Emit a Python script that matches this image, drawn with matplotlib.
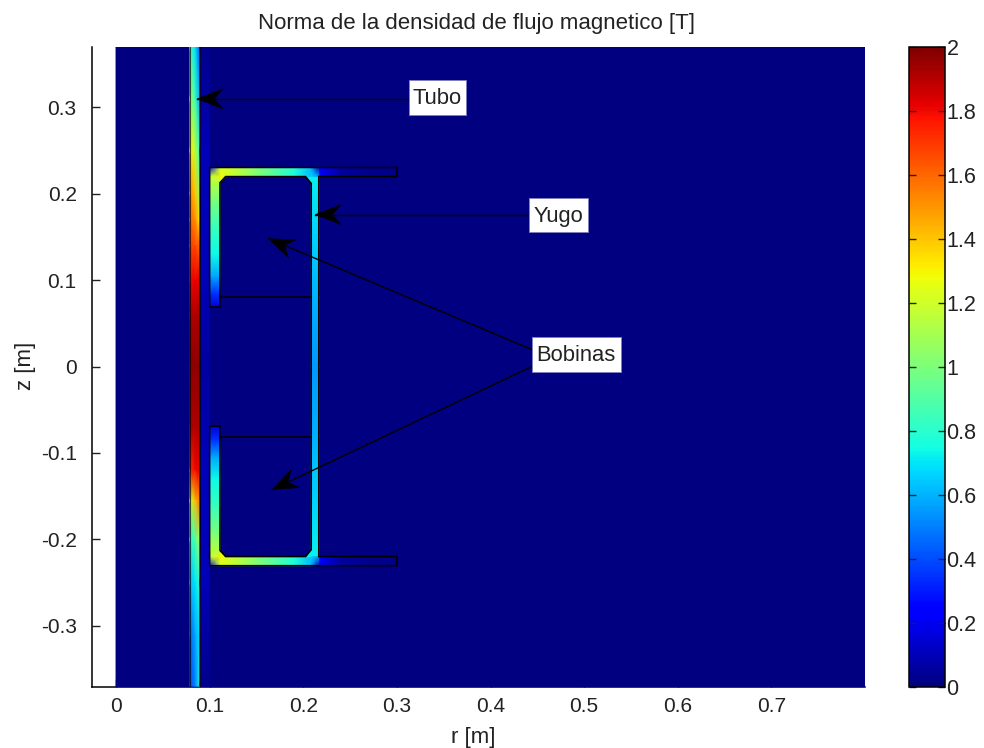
import numpy as np
import matplotlib
matplotlib.use("Agg")
import matplotlib.pyplot as plt
from matplotlib.path import Path
from matplotlib.patches import PathPatch, Rectangle
from matplotlib.transforms import Affine2D

plt.rcParams['font.family'] = ['Liberation Sans', 'DejaVu Sans']
plt.rcParams['axes.unicode_minus'] = False

# ---- data (field norm in tesla) ----
tube_r = [0.079, 0.0845, 0.0895]
tube_z = [0.37, 0.31, 0.25, 0.2, 0.17, 0.14, 0.1, 0.06, 0.0,
          -0.07, -0.12, -0.155, -0.2, -0.25, -0.31, -0.37]
tube_left = [0.88, 1.05, 1.32, 1.52, 1.60, 1.68, 1.80, 1.92, 1.97,
             1.92, 1.72, 1.15, 0.78, 0.62, 0.45, 0.40]
tube_mid = [0.68, 0.85, 1.15, 1.40, 1.52, 1.66, 1.82, 1.92, 1.97,
            1.92, 1.80, 1.42, 0.90, 0.70, 0.58, 0.50]
tube_right = [0.42, 0.58, 0.80, 1.05, 1.30, 1.60, 1.82, 1.92, 1.97,
              1.92, 1.82, 1.58, 1.12, 0.82, 0.70, 0.78]

gap_r = [0.0895, 0.1]
gap_z = [0.37, 0.25, 0.1, 0.0, -0.1, -0.25, -0.37]
gap_b = [0.03, 0.10, 0.10, 0.06, 0.10, 0.10, 0.03]

leg_r = [0.1, 0.111]
leg_z = [0.069, 0.085, 0.105, 0.13, 0.16, 0.19, 0.22]
leg_b = [0.15, 0.35, 0.58, 0.74, 0.83, 0.98, 1.18]

beam_r = [0.111, 0.13, 0.15, 0.17, 0.19, 0.2085]
beam_z = [0.22, 0.2305]
beam_b = [1.25, 1.15, 1.02, 0.90, 0.78, 0.62]

right_r = [0.2085, 0.2165]
right_z = [0.0, 0.08, 0.15, 0.22]
right_b = [0.55, 0.60, 0.66, 0.72]

flange_r = [0.2165, 0.24, 0.27, 0.30]
flange_z = [0.22, 0.2305]
flange_b = [0.22, 0.06, 0.03, 0.02]

corner_left = [[1.15, 1.30], [0.20, 1.15]]
corner_right = [[0.70, 0.55], [0.55, 0.08]]
chamfer_b = [1.30, 0.72]

outline_r = [0.1, 0.1, 0.3, 0.3, 0.2165, 0.2165, 0.3, 0.3, 0.1, 0.1, 0.111, 0.111, 0.117,
             0.2025, 0.2085, 0.2085, 0.2025, 0.117, 0.111, 0.111, 0.1]
outline_z = [0.069, 0.2305, 0.2305, 0.22, 0.22, -0.22, -0.22, -0.2305, -0.2305, -0.069, -0.069,
             -0.213, -0.22, -0.22, -0.212, 0.212, 0.22, 0.22, 0.213, 0.069, 0.069]
coil_z = [0.081, -0.081]
coil_r = [0.111, 0.2085]

labels = ['Tubo', 'Yugo', 'Bobinas']
box_r = [(0.3134, 0.3733), (0.4406, 0.5037), (0.444, 0.539)]
box_z = [(0.2917, 0.3322), (0.1562, 0.1955), (-0.0058, 0.0347)]
arrow_tail = [(0.3134, 0.31), (0.4406, 0.176), (0.444, 0.0197), (0.444, 0.0)]
arrow_tip = [(0.0866, 0.31), (0.2128, 0.176), (0.163, 0.148), (0.1668, -0.1424)]

xticks = [0, 0.1, 0.2, 0.3, 0.4, 0.5, 0.6, 0.7]
yticks = [-0.3, -0.2, -0.1, 0, 0.1, 0.2, 0.3]
cticks = [0, 0.2, 0.4, 0.6, 0.8, 1, 1.2, 1.4, 1.6, 1.8, 2]

W, H = 984, 748
fig = plt.figure(figsize=(W / 100, H / 100), dpi=100)
ax = fig.add_axes([92 / W, 1 - 687 / H, (865 - 92) / W, (687 - 47) / H])
ax.set_xlim(-0.0257, 0.8)
ax.set_ylim(-0.371, 0.37)
cmap = plt.get_cmap('jet')
norm = plt.Normalize(0, 2)
mesh_kw = dict(cmap=cmap, norm=norm, shading='gouraud', zorder=2, rasterized=True)

# background
ax.pcolormesh([0, 0.8], [-0.371, 0.37], np.zeros((2, 2)), **mesh_kw)
# tube
tube = np.column_stack([tube_left, tube_mid, tube_right])
ax.pcolormesh(tube_r, tube_z, tube, **mesh_kw)
ax.pcolormesh(gap_r, gap_z, np.column_stack([gap_b, gap_b]), **mesh_kw)

# yoke: upper half and its mirror image
for sign in (1, -1):
    ax.pcolormesh(leg_r, sign * np.array(leg_z), np.column_stack([leg_b, leg_b]), **mesh_kw)
    ax.pcolormesh(beam_r, sign * np.array(beam_z), np.vstack([beam_b, beam_b]), **mesh_kw)
    ax.pcolormesh(right_r, sign * np.array(right_z), np.column_stack([right_b, right_b]), **mesh_kw)
    ax.pcolormesh(flange_r, sign * np.array(flange_z), np.vstack([flange_b, flange_b]), **mesh_kw)
    ax.pcolormesh(leg_r, sign * np.array(beam_z), np.array(corner_left), **mesh_kw)
    ax.pcolormesh(right_r, sign * np.array(beam_z), np.array(corner_right), **mesh_kw)
    ax.fill([0.111, 0.111, 0.117], sign * np.array([0.213, 0.22, 0.22]),
            color=cmap(norm(chamfer_b[0])), lw=0, zorder=2.1)
    ax.fill([0.2085, 0.2085, 0.2025], sign * np.array([0.212, 0.22, 0.22]),
            color=cmap(norm(chamfer_b[1])), lw=0, zorder=2.1)

# geometry outlines
line_kw = dict(color='black', lw=1.1, zorder=3, solid_joinstyle='miter')
ax.plot(outline_r, outline_z, **line_kw)
for z in coil_z:
    ax.plot(coil_r, [z, z], **line_kw)
for r in (tube_r[0], tube_r[-1]):
    ax.plot([r, r], [-0.371, 0.37], color='black', lw=0.8, alpha=0.7, zorder=3)

# annotations
fig.canvas.draw()
head = Path([(0, 0), (-26, 10), (-17, 0), (-26, -10), (0, 0)],
            [Path.MOVETO, Path.LINETO, Path.LINETO, Path.LINETO, Path.CLOSEPOLY])
for tail, tip in zip(arrow_tail, arrow_tip):
    ax.plot([tail[0], tip[0]], [tail[1], tip[1]], color='black', lw=1.0, zorder=4)
    p0 = ax.transData.transform(tail)
    p1 = ax.transData.transform(tip)
    ang = np.arctan2(p1[1] - p0[1], p1[0] - p0[0])
    ax.add_patch(PathPatch(head, fc='black', ec='black', lw=0.4, zorder=4.5, clip_on=False,
                           transform=Affine2D().rotate(ang).translate(*p1)))
for name, (r0, r1), (z0, z1) in zip(labels, box_r, box_z):
    ax.add_patch(Rectangle((r0, z0), r1 - r0, z1 - z0, fc='white', ec='#8080c0', lw=0.6, zorder=5))
    ax.annotate(name, ((r0 + r1) / 2, (z0 + z1) / 2), xytext=(0, -1.1), textcoords='offset points',
                ha='center', va='center', fontsize=15.8, color='#222222', zorder=6)

# axes furniture
ax.set_xticks(xticks)
ax.set_xticklabels(['0', '0.1', '0.2', '0.3', '0.4', '0.5', '0.6', '0.7'])
ax.set_yticks(yticks)
ax.set_yticklabels(['-0.3', '-0.2', '-0.1', '0', '0.1', '0.2', '0.3'])
ax.set_axisbelow(True)
ax.tick_params(direction='in', length=6, width=1.0, labelsize=15, colors='#222222')
ax.tick_params(axis='y', pad=11)
ax.tick_params(axis='x', pad=7)
for side in ('top', 'right'):
    ax.spines[side].set_visible(False)
for side in ('left', 'bottom'):
    ax.spines[side].set_linewidth(1.1)
    ax.spines[side].set_zorder(1)

fig.text(477 / W, 1 - 23.5 / H, 'Norma de la densidad de flujo magnetico [T]',
         ha='center', va='center', fontsize=16, color='#222222')
fig.text(473 / W, 1 - 738 / H, 'r [m]', ha='center', va='center', fontsize=16, color='#222222')
fig.text(25 / W, 1 - 366 / H, 'z [m]', ha='center', va='center', rotation=90, fontsize=16, color='#222222')

# colour bar
cax = fig.add_axes([909 / W, 1 - 687 / H, (945 - 909) / W, (687 - 47) / H])
sm = plt.cm.ScalarMappable(norm=norm, cmap=cmap)
cb = fig.colorbar(sm, cax=cax)
cb.set_ticks(cticks)
cb.set_ticklabels(['0', '0.2', '0.4', '0.6', '0.8', '1', '1.2', '1.4', '1.6', '1.8', '2'])
cax.tick_params(direction='in', length=5, width=1.0, left=True, right=True, labelsize=15.5,
                colors='#222222', pad=1)
cb.outline.set_linewidth(1.1)

fig.savefig('out.png', dpi=100)
